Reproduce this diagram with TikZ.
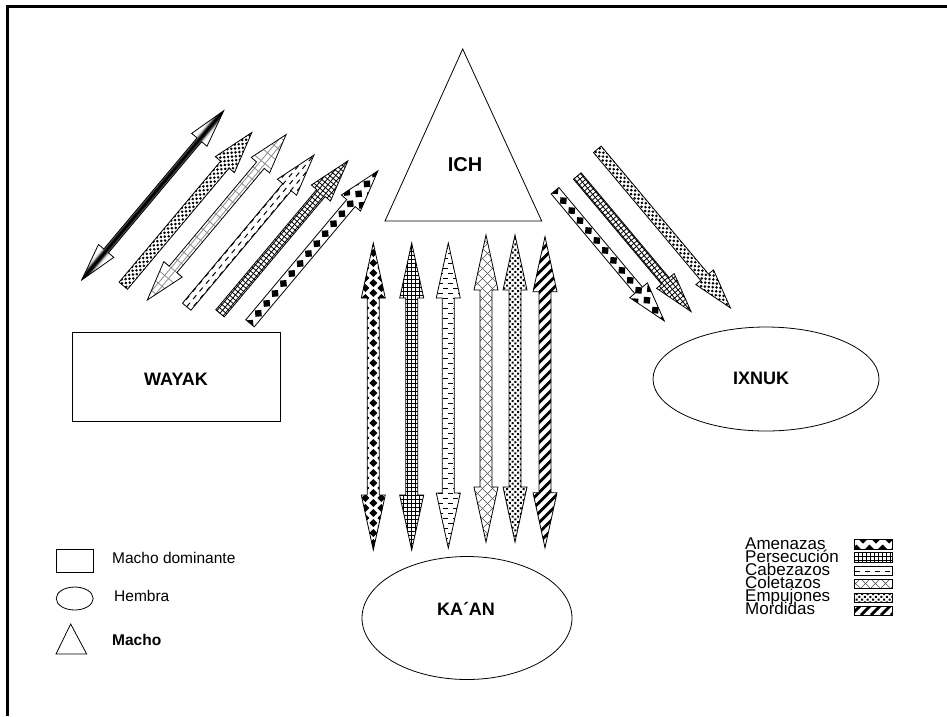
\documentclass[tikz,border=0pt]{standalone}
\usepackage{fontspec}
\setmainfont{Liberation Sans}
\usetikzlibrary{shapes.geometric}

% rellenos (zona x de #1 a #2, y de #3 a #4)
\newcommand{\patamenazas}[4]{%
  \pgfmathsetmacro\pasoa{#1+13}\pgfmathsetmacro\pasob{#3+20}%
  \foreach \i in {#1,\pasoa,...,#2}{
    \foreach \j in {#3,\pasob,...,#4}{
      \fill (\i-4.5,\j) -- ++(4.5,4.5) -- ++(4.5,-4.5) -- ++(-4.5,-4.5) -- cycle;
      \fill (\i+2,\j+10) -- ++(4.5,4.5) -- ++(4.5,-4.5) -- ++(-4.5,-4.5) -- cycle;
    }}}
\newcommand{\patamenazasv}[4]{%
  \pgfmathsetmacro\pasoa{#1+16}\pgfmathsetmacro\pasob{#3+10}%
  \foreach \i in {#1,\pasoa,...,#2}{
    \foreach \j in {#3,\pasob,...,#4}{
      \fill (\i+4,\j-4) -- ++(4,4) -- ++(-4,4) -- ++(-4,-4) -- cycle;
      \fill (\i+12,\j+1) -- ++(4,4) -- ++(-4,4) -- ++(-4,-4) -- cycle;
    }}}
\newcommand{\patpersecucion}[4]{%
  \pgfmathsetmacro\pasoa{#1+4}\pgfmathsetmacro\pasob{#3+4}%
  \foreach \i in {#1,\pasoa,...,#2} \draw[line width=.8pt] (\i,#3) -- (\i,#4);
  \foreach \j in {#3,\pasob,...,#4} \draw[line width=.8pt] (#1,\j) -- (#2,\j);}
\newcommand{\patcabezazos}[4]{%
  \pgfmathsetmacro\pasoa{#1+10}\pgfmathsetmacro\pasob{#3+10}%
  \foreach \i in {#1,\pasoa,...,#2}{
    \foreach \j in {#3,\pasob,...,#4}{
      \draw[line width=1pt] (\i,\j) -- ++(5,0) (\i+5,\j+5) -- ++(5,0);
    }}}
\newcommand{\patcoletazos}[4]{%
  \pgfmathsetmacro\patalto{#4-(#3)}\pgfmathsetmacro\pasoa{#1-\patalto}\pgfmathsetmacro\pasob{\pasoa+10}%
  \foreach \i in {\pasoa,\pasob,...,#2}
    \draw[line width=.6pt, black!70] (\i,#3) -- ++(\patalto,\patalto) (\i,#4) -- ++(\patalto,-\patalto);}
\newcommand{\patempujones}[4]{%
  \pgfmathsetmacro\pasoa{#1+5.5}\pgfmathsetmacro\pasob{#3+5.5}%
  \foreach \i in {#1,\pasoa,...,#2}{
    \foreach \j in {#3,\pasob,...,#4}{
      \fill (\i,\j) rectangle ++(2,2) (\i+2.75,\j+2.75) rectangle ++(2,2);
    }}}
\newcommand{\patmordidas}[4]{%
  \pgfmathsetmacro\patalto{#4-(#3)}\pgfmathsetmacro\pasoa{#1-\patalto}\pgfmathsetmacro\pasob{\pasoa+10}%
  \foreach \i in {\pasoa,\pasob,...,#2}
    \draw[line width=2.8pt] (\i,#4) -- ++(\patalto,-\patalto);}
\newcommand{\patescalera}[4]{%
  \pgfmathsetmacro\pasoa{#1+10}%
  \draw[black!45, line width=.8pt] (#1,-2.5) -- (#2,-2.5) (#1,2.5) -- (#2,2.5);
  \foreach \i in {#1,\pasoa,...,#2} \draw[black!45, line width=.8pt] (\i,#3) -- (\i,#4);}
\newcommand{\patvarilla}[4]{%
  \foreach \w/\c in {30/white,9/black!15,6/black!55,4/black!85,2/black}
    \draw[line width=\w pt, \c] (#1,0) -- (#2,0);}

\tikzset{
  contorno/.style={draw=black, line width=.8pt},
  titulo/.style={font=\fontsize{18}{20}\selectfont\bfseries},
  animal/.style={draw, line width=.8pt, inner sep=0pt},
  leyenda/.style={anchor=base west, inner sep=0pt, text height=10pt, text depth=2pt,
    font=\fontsize{15.5}{17}\selectfont},
  conducta/.style={leyenda, font=\fontsize{17}{17}\selectfont},
  muestra/.style={draw, line width=.6pt},
  % flecha de dos puntas: largo, medio ancho, medio ancho punta, largo punta, relleno
  pics/doble/.style n args={5}{code={
    \begin{scope}
      \clip (0,0) -- (#4,#3) -- (#4,#2) -- (#1-#4,#2) -- (#1-#4,#3) -- (#1,0)
        -- (#1-#4,-#3) -- (#1-#4,-#2) -- (#4,-#2) -- (#4,-#3) -- cycle;
      #5{0}{#1}{-20}{20}
    \end{scope}
    \path[contorno] (0,0) -- (#4,#3) -- (#4,#2) -- (#1-#4,#2) -- (#1-#4,#3) -- (#1,0)
        -- (#1-#4,-#3) -- (#1-#4,-#2) -- (#4,-#2) -- (#4,-#3) -- cycle;
  }},
  pics/simple/.style n args={5}{code={
    \begin{scope}
      \clip (0,-#2) -- (#1-#4,-#2) -- (#1-#4,-#3) -- (#1,0) -- (#1-#4,#3) -- (#1-#4,#2) -- (0,#2) -- cycle;
      #5{0}{#1}{-20}{20}
    \end{scope}
    \path[contorno] (0,-#2) -- (#1-#4,-#2) -- (#1-#4,-#3) -- (#1,0) -- (#1-#4,#3) -- (#1-#4,#2) -- (0,#2) -- cycle;
  }},
  pics/vertical/.style n args={5}{code={
    \begin{scope}
      \clip (0,0) -- (#3,#4) -- (#2,#4) -- (#2,#1-#4) -- (#3,#1-#4) -- (0,#1)
        -- (-#3,#1-#4) -- (-#2,#1-#4) -- (-#2,#4) -- (-#3,#4) -- cycle;
      #5{-20}{20}{0}{#1}
    \end{scope}
    \path[contorno] (0,0) -- (#3,#4) -- (#2,#4) -- (#2,#1-#4) -- (#3,#1-#4) -- (0,#1)
        -- (-#3,#1-#4) -- (-#2,#1-#4) -- (-#2,#4) -- (-#3,#4) -- cycle;
  }},
}

\begin{document}
\begin{tikzpicture}[x=1pt,y=-1pt]
\useasboundingbox (0,0) rectangle (947,716);
\draw[line width=2.5pt] (7.5,716) -- (7.5,6.5) -- (947,6.5);

% los cuatro animales
\draw[contorno] (462.7,49) -- (541.7,221) -- (385,221) -- cycle;
\node[titulo, font=\fontsize{20}{22}\selectfont\bfseries] (ich) at (465,165) {ICH};
\node[animal, rectangle, minimum width=208, minimum height=89] (wayak) at (176,377) {};
\node[titulo] (wayaktxt) at (176,379) {WAYAK};
\node[animal, ellipse, minimum width=226, minimum height=104] (ixnuk) at (766,379) {};
\node[titulo] (ixnuktxt) at (761,378) {IXNUK};
\node[animal, ellipse, minimum width=210, minimum height=123] (kaan) at (467,618) {};
\node[titulo] (kaantxt) at (466,609) {KA´AN};

% WAYAK - ICH
\pic[rotate=50] at (81.7,280) {doble={221}{3}{10}{38}{\patvarilla}};
\pic[rotate=50] at (123.3,285.7) {simple={200}{5.5}{12.5}{42}{\patempujones}};
\pic[rotate=50] at (147.3,300) {doble={216}{5}{12}{40}{\patescalera}};
\pic[rotate=50] at (186.7,306.7) {simple={198}{5.5}{12.5}{42}{\patcabezazos}};
\pic[rotate=50] at (220,313.3) {simple={199}{5.5}{12.5}{42}{\patpersecucion}};
\pic[rotate=50] at (250,323.3) {simple={199}{5.5}{12.5}{42}{\patamenazas}};

% ICH - IXNUK
\pic[rotate=-50] at (597.3,149.3) {simple={207}{5}{11.5}{40}{\patempujones}};
\pic[rotate=-50] at (577.3,176) {simple={177}{5}{11.5}{40}{\patpersecucion}};
\pic[rotate=-50] at (555,190.7) {simple={170}{5}{11.5}{40}{\patamenazas}};

% ICH - KA'AN
\pic at (373.3,243) {vertical={307}{6}{12}{55}{\patamenazasv}};
\pic at (411.7,243) {vertical={307}{6}{12}{55}{\patpersecucion}};
\pic at (448.3,243) {vertical={305}{6}{12}{55}{\patcabezazos}};
\pic at (486,235) {vertical={307}{6}{12}{55}{\patcoletazos}};
\pic at (515,235) {vertical={307}{6}{12}{55}{\patempujones}};
\pic at (545,236.7) {vertical={311}{6}{12}{55}{\patmordidas}};

% simbolos
\node[contorno, rectangle, minimum width=37, minimum height=23, inner sep=0pt] (lrect) at (74.5,560.5) {};
\node[contorno, ellipse, minimum width=37, minimum height=23, inner sep=0pt] (lelipse) at (74.7,598.5) {};
\draw[contorno] (70.7,624) -- (86.7,654) -- (56,654) -- cycle;
\node[leyenda] (tdom) at (112,563.3) {Macho dominante};
\node[leyenda] (themb) at (114,601.7) {Hembra};
\node[leyenda, font=\fontsize{15.5}{17}\selectfont\bfseries] (tmach) at (112,645.7) {Macho};

% conductas
\node[conducta] (tame) at (745,549.3) {Amenazas};
\node[conducta] (tper) at (745,562) {Persecución};
\node[conducta] (tcab) at (745,575) {Cabezazos};
\node[conducta] (tcol) at (745,588.3) {Coletazos};
\node[conducta] (temp) at (745,601.3) {Empujones};
\node[conducta] (tmor) at (745,614.3) {Mordidas};
\foreach \ya/\yb/\p in {539/549/\patamenazas, 552/562/\patpersecucion, 566/575/\patcabezazos,
    579/588/\patcoletazos, 593/602/\patempujones, 606/615/\patmordidas}{
  \begin{scope}
    \clip (854,\ya) rectangle (892,\yb);
    \p{850}{896}{\ya}{\yb}
  \end{scope}
  \draw[muestra] (854,\ya) rectangle (892,\yb);
}
\end{tikzpicture}
\end{document}
